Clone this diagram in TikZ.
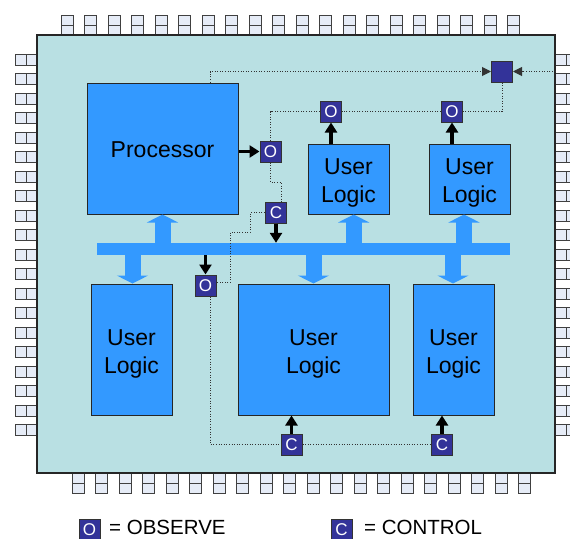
\documentclass[tikz,border=0pt]{standalone}
\usepackage{fontspec}
\setmainfont{Liberation Sans}
\usetikzlibrary{arrows.meta,calc}
\definecolor{chipfill}{RGB}{185,224,227}
\definecolor{blk}{RGB}{51,153,255}
\definecolor{sig}{RGB}{51,51,153}
\definecolor{pinfill}{RGB}{230,236,247}
\newcommand{\ulx}{\rule{0pt}{24.5pt}User\\Logic}
\begin{document}
\begin{tikzpicture}[x=1pt,y=-1pt,
  block/.style={draw=black!85, line width=1pt, fill=blk, inner sep=0, align=center, font=\fontsize{23}{28}\selectfont},
  sq/.style={draw=black!80, line width=1pt, fill=sig, text=white, minimum size=21pt, inner sep=0, font=\fontsize{17}{17}\selectfont},
  dotline/.style={dash pattern=on 1pt off 1.6pt, line width=1pt, black!80},
  dottip/.style={-{Triangle[length=9pt,width=9pt]}},
  bk/.style={line width=3.5pt, -{Triangle[length=10pt,width=12pt]}},
  fat/.style={line width=16pt, blk, -{Triangle[length=8pt,width=31pt]}},
  pin/.style={draw=black!75, line width=0.9pt, fill=pinfill}]
\useasboundingbox (0,0) rectangle (570,538);
\clip (0,0) rectangle (570,538);
% pins
\foreach \i in {0,...,19} {
  \draw[pin] ({61+23.5*\i},15) rectangle ++(12,20) ({61+23.5*\i},25) -- ++(12,0);
  \draw[pin] ({72+23.5*\i},473) rectangle ++(12,20) ({72+23.5*\i},483) -- ++(12,0);
  \draw[pin] (15,{54+19.5*\i}) rectangle ++(22,11) (26,{54+19.5*\i}) -- ++(0,11);
  \draw[pin] (555,{54+19.5*\i}) rectangle ++(22,11) (566,{54+19.5*\i}) -- ++(0,11);
}
% chip body
\node[draw=black!85, line width=1.2pt, fill=chipfill, minimum width=518pt, minimum height=438pt, inner sep=0] (chip) at (296,254) {};
% blocks
\node[block, minimum width=151pt, minimum height=131pt] (proc) at (162.5,148.5) {\rule{0pt}{18.5pt}Processor};
\node[block, minimum width=81pt, minimum height=70pt] (ul1) at (348.5,179) {\ulx};
\node[block, minimum width=81pt, minimum height=70pt] (ul2) at (469.5,179) {\ulx};
\node[block, minimum width=81pt, minimum height=131pt] (ul3) at (131.5,349.5) {\ulx};
\node[block, minimum width=151pt, minimum height=131pt] (ul4) at (313.5,349.5) {\ulx};
\node[block, minimum width=81pt, minimum height=131pt] (ul5) at (453.5,349.5) {\ulx};
% bus
\node[fill=blk, minimum width=413pt, minimum height=12pt, inner sep=0] (bus) at (303.5,249) {};
% fat arrows
\coordinate (a1) at (162.5,0);
\coordinate (a2) at (353.7,0);
\coordinate (a3) at (464,0);
\coordinate (a4) at (132.5,0);
\coordinate (a5) at (313.5,0);
\coordinate (a6) at (453,0);
\draw[fat] (bus.north -| a1) -- (proc.south -| a1);
\draw[fat] (bus.north -| a2) -- (ul1.south -| a2);
\draw[fat] (bus.north -| a3) -- (ul2.south -| a3);
\draw[fat] (bus.south -| a4) -- (ul3.north -| a4);
\draw[fat] (bus.south -| a5) -- (ul4.north -| a5);
\draw[fat] (bus.south -| a6) -- (ul5.north -| a6);
% observe / control cells
\node[sq] (o1) at (270.5,151.5) {O};
\node[sq] (c1) at (276,212.5) {C};
\node[sq] (o2) at (205.5,285.5) {O};
\node[sq] (o3) at (331,111.5) {O};
\node[sq] (o4) at (452,111.5) {O};
\node[sq] (mux) at (502,71.5) {};
\node[sq] (c2) at (291.5,444.5) {C};
\node[sq] (c3) at (442,444.5) {C};
% dotted scan chain
\coordinate (d1) at (210,0);
\draw[dotline, dottip] (proc.north -| d1) |- (mux.west);
\draw[dotline, dottip] (chip.east |- mux) -- (mux.east);
\draw[dotline] (mux.south) |- (o4.east);
\draw[dotline] (o4.west) -- (o3.east);
\draw[dotline] (o3.west) -| (o1.north);
\coordinate (k1) at (281,182);
\draw[dotline] (o1.south) |- (k1) -- (c1.north -| k1);
\coordinate (k2) at (250.5,232);
\coordinate (k3) at (230.5,282.5);
\draw[dotline] (c1.west) -| (k2) -| (k3) -- (k3 -| o2.east);
\coordinate (k4) at (210.5,0);
\draw[dotline] (o2.south -| k4) |- (c2.west);
\draw[dotline] (c2.east) -- (c3.west);
% solid arrows
\draw[bk] (proc.east |- o1) -- (o1.west);
\draw[bk] (c1.south) -- (c1.south |- bus.north);
\draw[bk] (bus.south -| o2) -- (o2.north);
\draw[bk] (ul1.north -| o3) -- (o3.south);
\draw[bk] (ul2.north -| o4) -- (o4.south);
\draw[bk] (c2.north) -- (c2.north |- ul4.south);
\draw[bk] (c3.north) -- (c3.north |- ul5.south);
% legend
\node[sq] (lo) at (89.5,529.5) {O};
\node[anchor=base west, inner sep=0, font=\fontsize{20.5}{20.5}\selectfont] (lot) at (109,534.5) {= OBSERVE};
\node[sq] (lc) at (341.5,529.5) {C};
\node[anchor=base west, inner sep=0, font=\fontsize{20.5}{20.5}\selectfont] (lct) at (364,534.5) {= CONTROL};
\end{tikzpicture}
\end{document}
